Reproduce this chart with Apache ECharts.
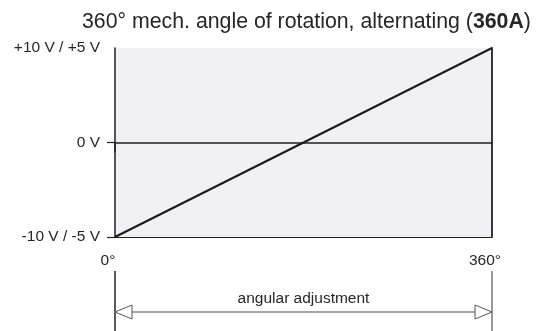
<!DOCTYPE html>
<html>
<head>
<meta charset="utf-8">
<script src="https://cdn.jsdelivr.net/npm/echarts@6/dist/echarts.min.js"></script>
<style>
  html, body { margin: 0; padding: 0; background: #ffffff; }
  #chart { width: 540px; height: 331px; }
</style>
</head>
<body>
<div id="chart"></div>
<script>
// ---- data ----
const angles = [0, 360];                 // degrees of mechanical rotation
const voltages = [-10, 10];              // output (V), alternating
const yTickValues = [-10, 0, 10];
const yTickLabels = ['-10 V / -5 V', '0 V', '+10 V / +5 V'];
const xTickValues = [0, 360];
const xTickLabels = ['0°', '360°'];
const spanLabel = 'angular adjustment';
const titleMain = '360° mech. angle of rotation, alternating (';
const titleBold = '360A';
const titleEnd = ')';

const FONT = "'Liberation Sans', Arial, Helvetica, sans-serif";
const TXT = '#262626';

const chart = echarts.init(document.getElementById('chart'), null, { renderer: 'canvas' });

const option = {
  animation: false,
  backgroundColor: '#ffffff',
  textStyle: { fontFamily: FONT },
  title: {
    text: '{n|' + titleMain + '}{b|' + titleBold + '}{n|' + titleEnd + '}',
    left: 77,
    top: 7,
    textStyle: {
      fontWeight: 'normal',
      fontSize: 21.3,
      rich: {
        n: { fontSize: 21.3, fontFamily: FONT, color: TXT, fontWeight: 'normal' },
        b: { fontSize: 21.3, fontFamily: FONT, color: TXT, fontWeight: 'bold' }
      }
    }
  },
  grid: {
    left: 115, right: 48, top: 48, bottom: 94,
    show: true, backgroundColor: '#f1f1f3', borderWidth: 0
  },
  xAxis: {
    type: 'value', min: 0, max: 360, interval: 360,
    axisLine: { show: true, lineStyle: { color: '#222', width: 1.5 } },
    axisTick: { show: true, customValues: [0], length: 10, lineStyle: { color: '#222', width: 1.5 } },
    axisLabel: {
      show: true, margin: 16, fontSize: 15.5, color: TXT, fontFamily: FONT,
      padding: [0, 14, 0, 0],
      formatter: function (v) { const i = xTickValues.indexOf(v); return i >= 0 ? xTickLabels[i] : ''; }
    },
    splitLine: { show: false }
  },
  yAxis: [{
    type: 'value', min: -10, max: 10, interval: 10,
    axisLine: { show: true, onZero: false, lineStyle: { color: '#222', width: 1.5 } },
    axisTick: { show: true, customValues: [-10, 0], length: 8, lineStyle: { color: '#222', width: 1.2 } },
    axisLabel: {
      show: true, customValues: yTickValues, margin: 15, fontSize: 15.5, color: TXT, fontFamily: FONT,
      formatter: function (v) { const i = yTickValues.indexOf(v); return i >= 0 ? yTickLabels[i] : ''; }
    },
    splitLine: { show: true, showMaxLine: false, lineStyle: { color: '#222', width: 1.2 } }
  }, {
    type: 'value', min: -10, max: 10, position: 'right',
    axisLine: { show: true, onZero: false, lineStyle: { color: '#222', width: 1.8 } },
    axisTick: { show: false }, axisLabel: { show: false }, splitLine: { show: false }
  }],
  series: [{
    type: 'line',
    yAxisIndex: 0,
    data: angles.map((a, i) => [a, voltages[i]]),
    symbol: 'none',
    lineStyle: { color: '#1a1a1a', width: 2 },
    z: 5
  }]
};

chart.setOption(option);

// annotation (dimension arrow) placed from the axis scale
const p0 = chart.convertToPixel({ gridIndex: 0 }, [xTickValues[0], yTickValues[0]]);
const p1 = chart.convertToPixel({ gridIndex: 0 }, [xTickValues[1], yTickValues[0]]);
const x0 = p0[0], x1 = p1[0], yb = p0[1];
const yArrow = yb + 75;
const ah = 17, aw = 7;
chart.setOption({
  graphic: [
    { type: 'line', shape: { x1: x0, y1: yb + 34, x2: x0, y2: 331 }, style: { stroke: '#222', lineWidth: 1.5 } },
    { type: 'line', shape: { x1: x1, y1: yb + 34, x2: x1, y2: 331 }, style: { stroke: '#7a7a7a', lineWidth: 1.5 } },
    { type: 'line', shape: { x1: x0 + ah, y1: yArrow, x2: x1 - ah, y2: yArrow }, style: { stroke: '#8a8a8a', lineWidth: 1.5 } },
    { type: 'polygon', shape: { points: [[x0, yArrow], [x0 + ah, yArrow - aw], [x0 + ah, yArrow + aw]] },
      style: { fill: '#ffffff', stroke: '#555', lineWidth: 1 } },
    { type: 'polygon', shape: { points: [[x1, yArrow], [x1 - ah, yArrow - aw], [x1 - ah, yArrow + aw]] },
      style: { fill: '#ffffff', stroke: '#555', lineWidth: 1 } },
    { type: 'text', x: (x0 + x1) / 2, y: yArrow - 13,
      style: { text: spanLabel, font: '15.5px ' + FONT, fill: TXT, textAlign: 'center', textVerticalAlign: 'middle' } }
  ]
});
</script>
</body>
</html>
